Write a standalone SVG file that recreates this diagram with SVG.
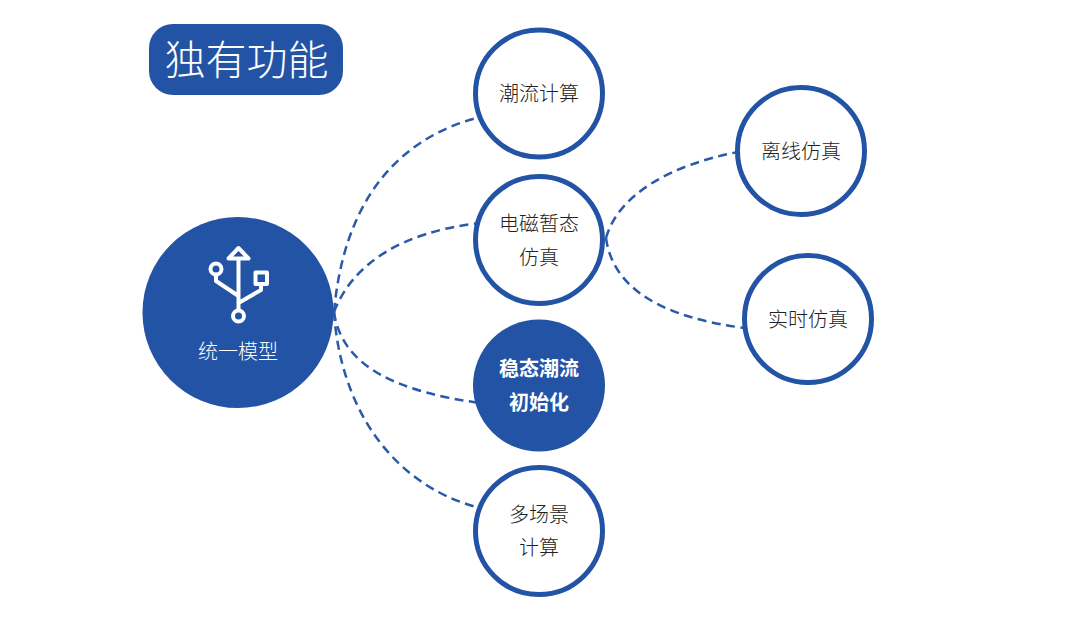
<svg xmlns="http://www.w3.org/2000/svg" width="1080" height="627" viewBox="0 0 1080 627">
<style>
text{font-family:"Noto Sans CJK SC","Noto Sans",sans-serif;text-anchor:middle}
.ring{fill:#fff;stroke:#2353a5;stroke-width:5}
.solid{fill:#2353a5}
.lbl{font-size:20px;fill:#222;font-weight:300}
.wh{font-size:20px;fill:#fff;font-weight:700}
.link{fill:none;stroke:#2a59a9;stroke-width:2.500;stroke-dasharray:9 5.500}
.ico{fill:none;stroke:#fff;stroke-width:4;stroke-linejoin:round;stroke-linecap:round}
</style>
<rect width="1080" height="627" fill="#fff"/>
<g id="connectors">
<path class="link" d="M334 312C343 210 390 140 480 117"/>
<path class="link" d="M334 312C352 265 400 232 480 223"/>
<path class="link" d="M334 312C342 368 400 392 480 403"/>
<path class="link" d="M334 312C340 405 390 485 480 508"/>
<path class="link" d="M606 238C618 195 670 165 738 152"/>
<path class="link" d="M606 238C613 290 665 318 745 328"/>
</g>
<g id="title"><rect x="149" y="24" width="194" height="71" rx="24" class="solid"/><text x="246.500" y="75" font-size="41" font-weight="300" fill="#fff">独有功能</text></g>
<g id="node-unified">
<circle cx="238" cy="312.500" r="95.500" class="solid"/>
<path class="ico" d="M238.500 259V310M216 275V281L238.500 296M261 285V290L238.500 303"/>
<path class="ico" d="M238.500 248L248.500 258.500H228.500Z"/>
<circle class="ico" cx="216" cy="269" r="5.500"/>
<rect class="ico" x="255.500" y="272.500" width="11.500" height="11.500"/>
<circle class="ico" cx="238.500" cy="316" r="5.500"/>
<text x="238" y="359" font-size="20" font-weight="300" fill="#fff">统一模型</text>
</g>
<g id="node-flow"><circle cx="539" cy="93.500" r="63.500" class="ring"/><text x="539" y="101" class="lbl">潮流计算</text></g>
<g id="node-em"><circle cx="539" cy="240" r="63.500" class="ring"/><text x="539" y="231" class="lbl">电磁暂态</text><text x="539" y="265" class="lbl">仿真</text></g>
<g id="node-init"><circle cx="539" cy="385.500" r="66" class="solid"/><text x="539" y="376" class="wh">稳态潮流</text><text x="539" y="410" class="wh">初始化</text></g>
<g id="node-multi"><circle cx="539" cy="531" r="63.500" class="ring"/><text x="539" y="522" class="lbl">多场景</text><text x="539" y="555" class="lbl">计算</text></g>
<g id="node-offline"><circle cx="801" cy="151" r="63.500" class="ring"/><text x="801" y="159" class="lbl">离线仿真</text></g>
<g id="node-realtime"><circle cx="808" cy="319" r="63.500" class="ring"/><text x="808" y="327" class="lbl">实时仿真</text></g>
</svg>
